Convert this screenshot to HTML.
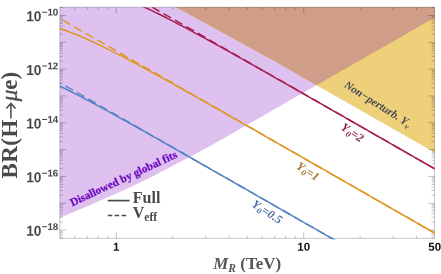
<!DOCTYPE html>
<html><head><meta charset="utf-8"><style>
html,body{margin:0;padding:0;background:#fff;}
svg{display:block;will-change:transform;}
text{font-family:"Liberation Serif",serif;}
text.ss{font-family:"Liberation Sans",sans-serif;}
</style></head><body>
<svg width="441" height="274" viewBox="0 0 441 274">
<rect width="441" height="274" fill="#fff"/>
<defs><clipPath id="cy"><path d="M176.10,7.20 L240.00,42.20 L280.00,64.20 L316.50,85.20 L434.70,152.60 L445.00,158.50 L444.60,2.20 L170.00,2.20 Z"/></clipPath><clipPath id="cl"><rect x="59.80" y="7.20" width="374.80" height="232.10"/></clipPath><clipPath id="c"><rect x="59.80" y="7.20" width="374.80" height="231.10"/></clipPath></defs>
<g clip-path="url(#c)">
<path d="M59.80,2.20 L59.80,217.92 L64.80,215.81 L69.80,213.70 L74.80,211.59 L79.80,209.48 L84.80,207.36 L89.80,205.13 L94.80,202.89 L99.80,200.66 L104.80,198.43 L109.80,196.22 L114.80,194.12 L119.80,192.01 L124.80,189.75 L129.80,187.38 L134.80,185.01 L139.80,182.59 L144.80,180.13 L149.80,177.67 L154.80,175.20 L159.80,172.59 L164.80,169.97 L169.80,167.35 L174.80,164.74 L179.80,162.12 L184.80,159.50 L189.80,156.88 L194.80,154.19 L199.80,151.50 L204.80,148.82 L209.80,146.13 L214.80,143.30 L219.80,140.46 L224.80,137.63 L229.80,134.79 L234.80,131.93 L239.80,129.07 L244.80,126.21 L249.80,123.35 L254.80,120.49 L259.80,117.63 L264.80,114.77 L269.80,111.91 L274.80,109.05 L279.80,106.19 L284.80,103.33 L289.80,100.47 L294.80,97.61 L299.80,94.75 L304.80,91.89 L309.80,89.03 L314.80,86.17 L319.80,83.31 L324.80,80.45 L329.80,77.59 L334.80,74.73 L339.80,71.87 L344.80,69.01 L349.80,66.15 L354.80,63.29 L359.80,60.43 L364.80,57.57 L369.80,54.71 L374.80,51.85 L379.80,48.99 L384.80,46.13 L389.80,43.27 L394.80,40.41 L399.80,37.55 L404.80,34.69 L409.80,31.83 L414.80,28.97 L419.80,26.11 L424.80,23.25 L429.80,20.39 L434.80,17.53 L439.80,14.67 L444.60,2.20 Z" fill="#DEC1EF"/>
<path d="M176.10,7.20 L240.00,42.20 L280.00,64.20 L316.50,85.20 L434.70,152.60 L445.00,158.50 L444.60,2.20 L170.00,2.20 Z" fill="#EED07A"/>
<g style="mix-blend-mode:normal"><path d="M59.80,2.20 L59.80,217.92 L64.80,215.81 L69.80,213.70 L74.80,211.59 L79.80,209.48 L84.80,207.36 L89.80,205.13 L94.80,202.89 L99.80,200.66 L104.80,198.43 L109.80,196.22 L114.80,194.12 L119.80,192.01 L124.80,189.75 L129.80,187.38 L134.80,185.01 L139.80,182.59 L144.80,180.13 L149.80,177.67 L154.80,175.20 L159.80,172.59 L164.80,169.97 L169.80,167.35 L174.80,164.74 L179.80,162.12 L184.80,159.50 L189.80,156.88 L194.80,154.19 L199.80,151.50 L204.80,148.82 L209.80,146.13 L214.80,143.30 L219.80,140.46 L224.80,137.63 L229.80,134.79 L234.80,131.93 L239.80,129.07 L244.80,126.21 L249.80,123.35 L254.80,120.49 L259.80,117.63 L264.80,114.77 L269.80,111.91 L274.80,109.05 L279.80,106.19 L284.80,103.33 L289.80,100.47 L294.80,97.61 L299.80,94.75 L304.80,91.89 L309.80,89.03 L314.80,86.17 L319.80,83.31 L324.80,80.45 L329.80,77.59 L334.80,74.73 L339.80,71.87 L344.80,69.01 L349.80,66.15 L354.80,63.29 L359.80,60.43 L364.80,57.57 L369.80,54.71 L374.80,51.85 L379.80,48.99 L384.80,46.13 L389.80,43.27 L394.80,40.41 L399.80,37.55 L404.80,34.69 L409.80,31.83 L414.80,28.97 L419.80,26.11 L424.80,23.25 L429.80,20.39 L434.80,17.53 L439.80,14.67 L444.60,2.20 Z" fill="#D09D89" clip-path="url(#cy)"/></g>
</g>
<rect x="59.80" y="7.20" width="374.80" height="231.10" fill="none" stroke="#000" stroke-opacity="0.27" stroke-width="0.8"/>
<line x1="59.80" y1="238.13" x2="62.80" y2="238.13" stroke="#000" stroke-opacity="0.4" stroke-width="0.60"/>
<line x1="434.60" y1="238.13" x2="431.60" y2="238.13" stroke="#000" stroke-opacity="0.4" stroke-width="0.60"/>
<line x1="59.80" y1="236.01" x2="62.80" y2="236.01" stroke="#000" stroke-opacity="0.4" stroke-width="0.60"/>
<line x1="434.60" y1="236.01" x2="431.60" y2="236.01" stroke="#000" stroke-opacity="0.4" stroke-width="0.60"/>
<line x1="59.80" y1="234.21" x2="62.80" y2="234.21" stroke="#000" stroke-opacity="0.4" stroke-width="0.60"/>
<line x1="434.60" y1="234.21" x2="431.60" y2="234.21" stroke="#000" stroke-opacity="0.4" stroke-width="0.60"/>
<line x1="59.80" y1="232.66" x2="62.80" y2="232.66" stroke="#000" stroke-opacity="0.4" stroke-width="0.60"/>
<line x1="434.60" y1="232.66" x2="431.60" y2="232.66" stroke="#000" stroke-opacity="0.4" stroke-width="0.60"/>
<line x1="59.80" y1="231.29" x2="62.80" y2="231.29" stroke="#000" stroke-opacity="0.4" stroke-width="0.60"/>
<line x1="434.60" y1="231.29" x2="431.60" y2="231.29" stroke="#000" stroke-opacity="0.4" stroke-width="0.60"/>
<line x1="59.80" y1="230.06" x2="66.30" y2="230.06" stroke="#000" stroke-opacity="0.4" stroke-width="0.60"/>
<line x1="434.60" y1="230.06" x2="428.10" y2="230.06" stroke="#000" stroke-opacity="0.4" stroke-width="0.60"/>
<line x1="59.80" y1="221.99" x2="62.80" y2="221.99" stroke="#000" stroke-opacity="0.4" stroke-width="0.60"/>
<line x1="434.60" y1="221.99" x2="431.60" y2="221.99" stroke="#000" stroke-opacity="0.4" stroke-width="0.60"/>
<line x1="59.80" y1="217.26" x2="62.80" y2="217.26" stroke="#000" stroke-opacity="0.4" stroke-width="0.60"/>
<line x1="434.60" y1="217.26" x2="431.60" y2="217.26" stroke="#000" stroke-opacity="0.4" stroke-width="0.60"/>
<line x1="59.80" y1="213.91" x2="62.80" y2="213.91" stroke="#000" stroke-opacity="0.4" stroke-width="0.60"/>
<line x1="434.60" y1="213.91" x2="431.60" y2="213.91" stroke="#000" stroke-opacity="0.4" stroke-width="0.60"/>
<line x1="59.80" y1="211.31" x2="62.80" y2="211.31" stroke="#000" stroke-opacity="0.4" stroke-width="0.60"/>
<line x1="434.60" y1="211.31" x2="431.60" y2="211.31" stroke="#000" stroke-opacity="0.4" stroke-width="0.60"/>
<line x1="59.80" y1="209.19" x2="62.80" y2="209.19" stroke="#000" stroke-opacity="0.4" stroke-width="0.60"/>
<line x1="434.60" y1="209.19" x2="431.60" y2="209.19" stroke="#000" stroke-opacity="0.4" stroke-width="0.60"/>
<line x1="59.80" y1="207.39" x2="62.80" y2="207.39" stroke="#000" stroke-opacity="0.4" stroke-width="0.60"/>
<line x1="434.60" y1="207.39" x2="431.60" y2="207.39" stroke="#000" stroke-opacity="0.4" stroke-width="0.60"/>
<line x1="59.80" y1="205.84" x2="62.80" y2="205.84" stroke="#000" stroke-opacity="0.4" stroke-width="0.60"/>
<line x1="434.60" y1="205.84" x2="431.60" y2="205.84" stroke="#000" stroke-opacity="0.4" stroke-width="0.60"/>
<line x1="59.80" y1="204.47" x2="62.80" y2="204.47" stroke="#000" stroke-opacity="0.4" stroke-width="0.60"/>
<line x1="434.60" y1="204.47" x2="431.60" y2="204.47" stroke="#000" stroke-opacity="0.4" stroke-width="0.60"/>
<line x1="59.80" y1="203.24" x2="66.30" y2="203.24" stroke="#000" stroke-opacity="0.4" stroke-width="0.60"/>
<line x1="434.60" y1="203.24" x2="428.10" y2="203.24" stroke="#000" stroke-opacity="0.4" stroke-width="0.60"/>
<line x1="59.80" y1="195.17" x2="62.80" y2="195.17" stroke="#000" stroke-opacity="0.4" stroke-width="0.60"/>
<line x1="434.60" y1="195.17" x2="431.60" y2="195.17" stroke="#000" stroke-opacity="0.4" stroke-width="0.60"/>
<line x1="59.80" y1="190.44" x2="62.80" y2="190.44" stroke="#000" stroke-opacity="0.4" stroke-width="0.60"/>
<line x1="434.60" y1="190.44" x2="431.60" y2="190.44" stroke="#000" stroke-opacity="0.4" stroke-width="0.60"/>
<line x1="59.80" y1="187.09" x2="62.80" y2="187.09" stroke="#000" stroke-opacity="0.4" stroke-width="0.60"/>
<line x1="434.60" y1="187.09" x2="431.60" y2="187.09" stroke="#000" stroke-opacity="0.4" stroke-width="0.60"/>
<line x1="59.80" y1="184.49" x2="62.80" y2="184.49" stroke="#000" stroke-opacity="0.4" stroke-width="0.60"/>
<line x1="434.60" y1="184.49" x2="431.60" y2="184.49" stroke="#000" stroke-opacity="0.4" stroke-width="0.60"/>
<line x1="59.80" y1="182.37" x2="62.80" y2="182.37" stroke="#000" stroke-opacity="0.4" stroke-width="0.60"/>
<line x1="434.60" y1="182.37" x2="431.60" y2="182.37" stroke="#000" stroke-opacity="0.4" stroke-width="0.60"/>
<line x1="59.80" y1="180.57" x2="62.80" y2="180.57" stroke="#000" stroke-opacity="0.4" stroke-width="0.60"/>
<line x1="434.60" y1="180.57" x2="431.60" y2="180.57" stroke="#000" stroke-opacity="0.4" stroke-width="0.60"/>
<line x1="59.80" y1="179.02" x2="62.80" y2="179.02" stroke="#000" stroke-opacity="0.4" stroke-width="0.60"/>
<line x1="434.60" y1="179.02" x2="431.60" y2="179.02" stroke="#000" stroke-opacity="0.4" stroke-width="0.60"/>
<line x1="59.80" y1="177.65" x2="62.80" y2="177.65" stroke="#000" stroke-opacity="0.4" stroke-width="0.60"/>
<line x1="434.60" y1="177.65" x2="431.60" y2="177.65" stroke="#000" stroke-opacity="0.4" stroke-width="0.60"/>
<line x1="59.80" y1="176.42" x2="66.30" y2="176.42" stroke="#000" stroke-opacity="0.4" stroke-width="0.60"/>
<line x1="434.60" y1="176.42" x2="428.10" y2="176.42" stroke="#000" stroke-opacity="0.4" stroke-width="0.60"/>
<line x1="59.80" y1="168.35" x2="62.80" y2="168.35" stroke="#000" stroke-opacity="0.4" stroke-width="0.60"/>
<line x1="434.60" y1="168.35" x2="431.60" y2="168.35" stroke="#000" stroke-opacity="0.4" stroke-width="0.60"/>
<line x1="59.80" y1="163.62" x2="62.80" y2="163.62" stroke="#000" stroke-opacity="0.4" stroke-width="0.60"/>
<line x1="434.60" y1="163.62" x2="431.60" y2="163.62" stroke="#000" stroke-opacity="0.4" stroke-width="0.60"/>
<line x1="59.80" y1="160.27" x2="62.80" y2="160.27" stroke="#000" stroke-opacity="0.4" stroke-width="0.60"/>
<line x1="434.60" y1="160.27" x2="431.60" y2="160.27" stroke="#000" stroke-opacity="0.4" stroke-width="0.60"/>
<line x1="59.80" y1="157.67" x2="62.80" y2="157.67" stroke="#000" stroke-opacity="0.4" stroke-width="0.60"/>
<line x1="434.60" y1="157.67" x2="431.60" y2="157.67" stroke="#000" stroke-opacity="0.4" stroke-width="0.60"/>
<line x1="59.80" y1="155.55" x2="62.80" y2="155.55" stroke="#000" stroke-opacity="0.4" stroke-width="0.60"/>
<line x1="434.60" y1="155.55" x2="431.60" y2="155.55" stroke="#000" stroke-opacity="0.4" stroke-width="0.60"/>
<line x1="59.80" y1="153.75" x2="62.80" y2="153.75" stroke="#000" stroke-opacity="0.4" stroke-width="0.60"/>
<line x1="434.60" y1="153.75" x2="431.60" y2="153.75" stroke="#000" stroke-opacity="0.4" stroke-width="0.60"/>
<line x1="59.80" y1="152.20" x2="62.80" y2="152.20" stroke="#000" stroke-opacity="0.4" stroke-width="0.60"/>
<line x1="434.60" y1="152.20" x2="431.60" y2="152.20" stroke="#000" stroke-opacity="0.4" stroke-width="0.60"/>
<line x1="59.80" y1="150.83" x2="62.80" y2="150.83" stroke="#000" stroke-opacity="0.4" stroke-width="0.60"/>
<line x1="434.60" y1="150.83" x2="431.60" y2="150.83" stroke="#000" stroke-opacity="0.4" stroke-width="0.60"/>
<line x1="59.80" y1="149.60" x2="66.30" y2="149.60" stroke="#000" stroke-opacity="0.4" stroke-width="0.60"/>
<line x1="434.60" y1="149.60" x2="428.10" y2="149.60" stroke="#000" stroke-opacity="0.4" stroke-width="0.60"/>
<line x1="59.80" y1="141.53" x2="62.80" y2="141.53" stroke="#000" stroke-opacity="0.4" stroke-width="0.60"/>
<line x1="434.60" y1="141.53" x2="431.60" y2="141.53" stroke="#000" stroke-opacity="0.4" stroke-width="0.60"/>
<line x1="59.80" y1="136.80" x2="62.80" y2="136.80" stroke="#000" stroke-opacity="0.4" stroke-width="0.60"/>
<line x1="434.60" y1="136.80" x2="431.60" y2="136.80" stroke="#000" stroke-opacity="0.4" stroke-width="0.60"/>
<line x1="59.80" y1="133.45" x2="62.80" y2="133.45" stroke="#000" stroke-opacity="0.4" stroke-width="0.60"/>
<line x1="434.60" y1="133.45" x2="431.60" y2="133.45" stroke="#000" stroke-opacity="0.4" stroke-width="0.60"/>
<line x1="59.80" y1="130.85" x2="62.80" y2="130.85" stroke="#000" stroke-opacity="0.4" stroke-width="0.60"/>
<line x1="434.60" y1="130.85" x2="431.60" y2="130.85" stroke="#000" stroke-opacity="0.4" stroke-width="0.60"/>
<line x1="59.80" y1="128.73" x2="62.80" y2="128.73" stroke="#000" stroke-opacity="0.4" stroke-width="0.60"/>
<line x1="434.60" y1="128.73" x2="431.60" y2="128.73" stroke="#000" stroke-opacity="0.4" stroke-width="0.60"/>
<line x1="59.80" y1="126.93" x2="62.80" y2="126.93" stroke="#000" stroke-opacity="0.4" stroke-width="0.60"/>
<line x1="434.60" y1="126.93" x2="431.60" y2="126.93" stroke="#000" stroke-opacity="0.4" stroke-width="0.60"/>
<line x1="59.80" y1="125.38" x2="62.80" y2="125.38" stroke="#000" stroke-opacity="0.4" stroke-width="0.60"/>
<line x1="434.60" y1="125.38" x2="431.60" y2="125.38" stroke="#000" stroke-opacity="0.4" stroke-width="0.60"/>
<line x1="59.80" y1="124.01" x2="62.80" y2="124.01" stroke="#000" stroke-opacity="0.4" stroke-width="0.60"/>
<line x1="434.60" y1="124.01" x2="431.60" y2="124.01" stroke="#000" stroke-opacity="0.4" stroke-width="0.60"/>
<line x1="59.80" y1="122.78" x2="66.30" y2="122.78" stroke="#000" stroke-opacity="0.4" stroke-width="0.60"/>
<line x1="434.60" y1="122.78" x2="428.10" y2="122.78" stroke="#000" stroke-opacity="0.4" stroke-width="0.60"/>
<line x1="59.80" y1="114.71" x2="62.80" y2="114.71" stroke="#000" stroke-opacity="0.4" stroke-width="0.60"/>
<line x1="434.60" y1="114.71" x2="431.60" y2="114.71" stroke="#000" stroke-opacity="0.4" stroke-width="0.60"/>
<line x1="59.80" y1="109.98" x2="62.80" y2="109.98" stroke="#000" stroke-opacity="0.4" stroke-width="0.60"/>
<line x1="434.60" y1="109.98" x2="431.60" y2="109.98" stroke="#000" stroke-opacity="0.4" stroke-width="0.60"/>
<line x1="59.80" y1="106.63" x2="62.80" y2="106.63" stroke="#000" stroke-opacity="0.4" stroke-width="0.60"/>
<line x1="434.60" y1="106.63" x2="431.60" y2="106.63" stroke="#000" stroke-opacity="0.4" stroke-width="0.60"/>
<line x1="59.80" y1="104.03" x2="62.80" y2="104.03" stroke="#000" stroke-opacity="0.4" stroke-width="0.60"/>
<line x1="434.60" y1="104.03" x2="431.60" y2="104.03" stroke="#000" stroke-opacity="0.4" stroke-width="0.60"/>
<line x1="59.80" y1="101.91" x2="62.80" y2="101.91" stroke="#000" stroke-opacity="0.4" stroke-width="0.60"/>
<line x1="434.60" y1="101.91" x2="431.60" y2="101.91" stroke="#000" stroke-opacity="0.4" stroke-width="0.60"/>
<line x1="59.80" y1="100.11" x2="62.80" y2="100.11" stroke="#000" stroke-opacity="0.4" stroke-width="0.60"/>
<line x1="434.60" y1="100.11" x2="431.60" y2="100.11" stroke="#000" stroke-opacity="0.4" stroke-width="0.60"/>
<line x1="59.80" y1="98.56" x2="62.80" y2="98.56" stroke="#000" stroke-opacity="0.4" stroke-width="0.60"/>
<line x1="434.60" y1="98.56" x2="431.60" y2="98.56" stroke="#000" stroke-opacity="0.4" stroke-width="0.60"/>
<line x1="59.80" y1="97.19" x2="62.80" y2="97.19" stroke="#000" stroke-opacity="0.4" stroke-width="0.60"/>
<line x1="434.60" y1="97.19" x2="431.60" y2="97.19" stroke="#000" stroke-opacity="0.4" stroke-width="0.60"/>
<line x1="59.80" y1="95.96" x2="66.30" y2="95.96" stroke="#000" stroke-opacity="0.4" stroke-width="0.60"/>
<line x1="434.60" y1="95.96" x2="428.10" y2="95.96" stroke="#000" stroke-opacity="0.4" stroke-width="0.60"/>
<line x1="59.80" y1="87.89" x2="62.80" y2="87.89" stroke="#000" stroke-opacity="0.4" stroke-width="0.60"/>
<line x1="434.60" y1="87.89" x2="431.60" y2="87.89" stroke="#000" stroke-opacity="0.4" stroke-width="0.60"/>
<line x1="59.80" y1="83.16" x2="62.80" y2="83.16" stroke="#000" stroke-opacity="0.4" stroke-width="0.60"/>
<line x1="434.60" y1="83.16" x2="431.60" y2="83.16" stroke="#000" stroke-opacity="0.4" stroke-width="0.60"/>
<line x1="59.80" y1="79.81" x2="62.80" y2="79.81" stroke="#000" stroke-opacity="0.4" stroke-width="0.60"/>
<line x1="434.60" y1="79.81" x2="431.60" y2="79.81" stroke="#000" stroke-opacity="0.4" stroke-width="0.60"/>
<line x1="59.80" y1="77.21" x2="62.80" y2="77.21" stroke="#000" stroke-opacity="0.4" stroke-width="0.60"/>
<line x1="434.60" y1="77.21" x2="431.60" y2="77.21" stroke="#000" stroke-opacity="0.4" stroke-width="0.60"/>
<line x1="59.80" y1="75.09" x2="62.80" y2="75.09" stroke="#000" stroke-opacity="0.4" stroke-width="0.60"/>
<line x1="434.60" y1="75.09" x2="431.60" y2="75.09" stroke="#000" stroke-opacity="0.4" stroke-width="0.60"/>
<line x1="59.80" y1="73.29" x2="62.80" y2="73.29" stroke="#000" stroke-opacity="0.4" stroke-width="0.60"/>
<line x1="434.60" y1="73.29" x2="431.60" y2="73.29" stroke="#000" stroke-opacity="0.4" stroke-width="0.60"/>
<line x1="59.80" y1="71.74" x2="62.80" y2="71.74" stroke="#000" stroke-opacity="0.4" stroke-width="0.60"/>
<line x1="434.60" y1="71.74" x2="431.60" y2="71.74" stroke="#000" stroke-opacity="0.4" stroke-width="0.60"/>
<line x1="59.80" y1="70.37" x2="62.80" y2="70.37" stroke="#000" stroke-opacity="0.4" stroke-width="0.60"/>
<line x1="434.60" y1="70.37" x2="431.60" y2="70.37" stroke="#000" stroke-opacity="0.4" stroke-width="0.60"/>
<line x1="59.80" y1="69.14" x2="66.30" y2="69.14" stroke="#000" stroke-opacity="0.4" stroke-width="0.60"/>
<line x1="434.60" y1="69.14" x2="428.10" y2="69.14" stroke="#000" stroke-opacity="0.4" stroke-width="0.60"/>
<line x1="59.80" y1="61.07" x2="62.80" y2="61.07" stroke="#000" stroke-opacity="0.4" stroke-width="0.60"/>
<line x1="434.60" y1="61.07" x2="431.60" y2="61.07" stroke="#000" stroke-opacity="0.4" stroke-width="0.60"/>
<line x1="59.80" y1="56.34" x2="62.80" y2="56.34" stroke="#000" stroke-opacity="0.4" stroke-width="0.60"/>
<line x1="434.60" y1="56.34" x2="431.60" y2="56.34" stroke="#000" stroke-opacity="0.4" stroke-width="0.60"/>
<line x1="59.80" y1="52.99" x2="62.80" y2="52.99" stroke="#000" stroke-opacity="0.4" stroke-width="0.60"/>
<line x1="434.60" y1="52.99" x2="431.60" y2="52.99" stroke="#000" stroke-opacity="0.4" stroke-width="0.60"/>
<line x1="59.80" y1="50.39" x2="62.80" y2="50.39" stroke="#000" stroke-opacity="0.4" stroke-width="0.60"/>
<line x1="434.60" y1="50.39" x2="431.60" y2="50.39" stroke="#000" stroke-opacity="0.4" stroke-width="0.60"/>
<line x1="59.80" y1="48.27" x2="62.80" y2="48.27" stroke="#000" stroke-opacity="0.4" stroke-width="0.60"/>
<line x1="434.60" y1="48.27" x2="431.60" y2="48.27" stroke="#000" stroke-opacity="0.4" stroke-width="0.60"/>
<line x1="59.80" y1="46.47" x2="62.80" y2="46.47" stroke="#000" stroke-opacity="0.4" stroke-width="0.60"/>
<line x1="434.60" y1="46.47" x2="431.60" y2="46.47" stroke="#000" stroke-opacity="0.4" stroke-width="0.60"/>
<line x1="59.80" y1="44.92" x2="62.80" y2="44.92" stroke="#000" stroke-opacity="0.4" stroke-width="0.60"/>
<line x1="434.60" y1="44.92" x2="431.60" y2="44.92" stroke="#000" stroke-opacity="0.4" stroke-width="0.60"/>
<line x1="59.80" y1="43.55" x2="62.80" y2="43.55" stroke="#000" stroke-opacity="0.4" stroke-width="0.60"/>
<line x1="434.60" y1="43.55" x2="431.60" y2="43.55" stroke="#000" stroke-opacity="0.4" stroke-width="0.60"/>
<line x1="59.80" y1="42.32" x2="66.30" y2="42.32" stroke="#000" stroke-opacity="0.4" stroke-width="0.60"/>
<line x1="434.60" y1="42.32" x2="428.10" y2="42.32" stroke="#000" stroke-opacity="0.4" stroke-width="0.60"/>
<line x1="59.80" y1="34.25" x2="62.80" y2="34.25" stroke="#000" stroke-opacity="0.4" stroke-width="0.60"/>
<line x1="434.60" y1="34.25" x2="431.60" y2="34.25" stroke="#000" stroke-opacity="0.4" stroke-width="0.60"/>
<line x1="59.80" y1="29.52" x2="62.80" y2="29.52" stroke="#000" stroke-opacity="0.4" stroke-width="0.60"/>
<line x1="434.60" y1="29.52" x2="431.60" y2="29.52" stroke="#000" stroke-opacity="0.4" stroke-width="0.60"/>
<line x1="59.80" y1="26.17" x2="62.80" y2="26.17" stroke="#000" stroke-opacity="0.4" stroke-width="0.60"/>
<line x1="434.60" y1="26.17" x2="431.60" y2="26.17" stroke="#000" stroke-opacity="0.4" stroke-width="0.60"/>
<line x1="59.80" y1="23.57" x2="62.80" y2="23.57" stroke="#000" stroke-opacity="0.4" stroke-width="0.60"/>
<line x1="434.60" y1="23.57" x2="431.60" y2="23.57" stroke="#000" stroke-opacity="0.4" stroke-width="0.60"/>
<line x1="59.80" y1="21.45" x2="62.80" y2="21.45" stroke="#000" stroke-opacity="0.4" stroke-width="0.60"/>
<line x1="434.60" y1="21.45" x2="431.60" y2="21.45" stroke="#000" stroke-opacity="0.4" stroke-width="0.60"/>
<line x1="59.80" y1="19.65" x2="62.80" y2="19.65" stroke="#000" stroke-opacity="0.4" stroke-width="0.60"/>
<line x1="434.60" y1="19.65" x2="431.60" y2="19.65" stroke="#000" stroke-opacity="0.4" stroke-width="0.60"/>
<line x1="59.80" y1="18.10" x2="62.80" y2="18.10" stroke="#000" stroke-opacity="0.4" stroke-width="0.60"/>
<line x1="434.60" y1="18.10" x2="431.60" y2="18.10" stroke="#000" stroke-opacity="0.4" stroke-width="0.60"/>
<line x1="59.80" y1="16.73" x2="62.80" y2="16.73" stroke="#000" stroke-opacity="0.4" stroke-width="0.60"/>
<line x1="434.60" y1="16.73" x2="431.60" y2="16.73" stroke="#000" stroke-opacity="0.4" stroke-width="0.60"/>
<line x1="59.80" y1="15.50" x2="66.30" y2="15.50" stroke="#000" stroke-opacity="0.4" stroke-width="0.60"/>
<line x1="434.60" y1="15.50" x2="428.10" y2="15.50" stroke="#000" stroke-opacity="0.4" stroke-width="0.60"/>
<line x1="59.80" y1="7.43" x2="62.80" y2="7.43" stroke="#000" stroke-opacity="0.4" stroke-width="0.60"/>
<line x1="434.60" y1="7.43" x2="431.60" y2="7.43" stroke="#000" stroke-opacity="0.4" stroke-width="0.60"/>
<line x1="74.73" y1="238.30" x2="74.73" y2="235.70" stroke="#000" stroke-opacity="0.4" stroke-width="0.60"/>
<line x1="74.73" y1="7.20" x2="74.73" y2="9.80" stroke="#000" stroke-opacity="0.4" stroke-width="0.60"/>
<line x1="87.27" y1="238.30" x2="87.27" y2="235.70" stroke="#000" stroke-opacity="0.4" stroke-width="0.60"/>
<line x1="87.27" y1="7.20" x2="87.27" y2="9.80" stroke="#000" stroke-opacity="0.4" stroke-width="0.60"/>
<line x1="98.14" y1="238.30" x2="98.14" y2="235.70" stroke="#000" stroke-opacity="0.4" stroke-width="0.60"/>
<line x1="98.14" y1="7.20" x2="98.14" y2="9.80" stroke="#000" stroke-opacity="0.4" stroke-width="0.60"/>
<line x1="107.73" y1="238.30" x2="107.73" y2="235.70" stroke="#000" stroke-opacity="0.4" stroke-width="0.60"/>
<line x1="107.73" y1="7.20" x2="107.73" y2="9.80" stroke="#000" stroke-opacity="0.4" stroke-width="0.60"/>
<line x1="116.30" y1="238.30" x2="116.30" y2="232.30" stroke="#000" stroke-opacity="0.4" stroke-width="0.60"/>
<line x1="116.30" y1="7.20" x2="116.30" y2="13.20" stroke="#000" stroke-opacity="0.4" stroke-width="0.60"/>
<line x1="172.71" y1="238.30" x2="172.71" y2="235.70" stroke="#000" stroke-opacity="0.4" stroke-width="0.60"/>
<line x1="172.71" y1="7.20" x2="172.71" y2="9.80" stroke="#000" stroke-opacity="0.4" stroke-width="0.60"/>
<line x1="205.71" y1="238.30" x2="205.71" y2="235.70" stroke="#000" stroke-opacity="0.4" stroke-width="0.60"/>
<line x1="205.71" y1="7.20" x2="205.71" y2="9.80" stroke="#000" stroke-opacity="0.4" stroke-width="0.60"/>
<line x1="229.13" y1="238.30" x2="229.13" y2="235.70" stroke="#000" stroke-opacity="0.4" stroke-width="0.60"/>
<line x1="229.13" y1="7.20" x2="229.13" y2="9.80" stroke="#000" stroke-opacity="0.4" stroke-width="0.60"/>
<line x1="247.29" y1="238.30" x2="247.29" y2="235.70" stroke="#000" stroke-opacity="0.4" stroke-width="0.60"/>
<line x1="247.29" y1="7.20" x2="247.29" y2="9.80" stroke="#000" stroke-opacity="0.4" stroke-width="0.60"/>
<line x1="262.13" y1="238.30" x2="262.13" y2="235.70" stroke="#000" stroke-opacity="0.4" stroke-width="0.60"/>
<line x1="262.13" y1="7.20" x2="262.13" y2="9.80" stroke="#000" stroke-opacity="0.4" stroke-width="0.60"/>
<line x1="274.67" y1="238.30" x2="274.67" y2="235.70" stroke="#000" stroke-opacity="0.4" stroke-width="0.60"/>
<line x1="274.67" y1="7.20" x2="274.67" y2="9.80" stroke="#000" stroke-opacity="0.4" stroke-width="0.60"/>
<line x1="285.54" y1="238.30" x2="285.54" y2="235.70" stroke="#000" stroke-opacity="0.4" stroke-width="0.60"/>
<line x1="285.54" y1="7.20" x2="285.54" y2="9.80" stroke="#000" stroke-opacity="0.4" stroke-width="0.60"/>
<line x1="295.13" y1="238.30" x2="295.13" y2="235.70" stroke="#000" stroke-opacity="0.4" stroke-width="0.60"/>
<line x1="295.13" y1="7.20" x2="295.13" y2="9.80" stroke="#000" stroke-opacity="0.4" stroke-width="0.60"/>
<line x1="303.70" y1="238.30" x2="303.70" y2="232.30" stroke="#000" stroke-opacity="0.4" stroke-width="0.60"/>
<line x1="303.70" y1="7.20" x2="303.70" y2="13.20" stroke="#000" stroke-opacity="0.4" stroke-width="0.60"/>
<line x1="360.11" y1="238.30" x2="360.11" y2="235.70" stroke="#000" stroke-opacity="0.4" stroke-width="0.60"/>
<line x1="360.11" y1="7.20" x2="360.11" y2="9.80" stroke="#000" stroke-opacity="0.4" stroke-width="0.60"/>
<line x1="393.11" y1="238.30" x2="393.11" y2="235.70" stroke="#000" stroke-opacity="0.4" stroke-width="0.60"/>
<line x1="393.11" y1="7.20" x2="393.11" y2="9.80" stroke="#000" stroke-opacity="0.4" stroke-width="0.60"/>
<line x1="416.53" y1="238.30" x2="416.53" y2="235.70" stroke="#000" stroke-opacity="0.4" stroke-width="0.60"/>
<line x1="416.53" y1="7.20" x2="416.53" y2="9.80" stroke="#000" stroke-opacity="0.4" stroke-width="0.60"/>
<g clip-path="url(#cl)">
<path d="M59.80,86.01 L62.80,87.49 L65.80,88.99 L68.80,90.50 L71.80,92.03 L74.80,93.57 L77.80,95.13 L80.80,96.70 L83.80,98.27 L86.80,99.86 L89.80,101.46 L92.80,103.06 L95.80,104.67 L98.80,106.29 L101.80,107.92 L104.80,109.56 L107.80,111.19 L110.80,112.84 L113.80,114.49 L116.80,116.15 L119.80,117.80 L122.80,119.47 L125.80,121.14 L128.80,122.81 L131.80,124.48 L134.80,126.16 L137.80,127.84 L140.80,129.52 L143.80,131.21 L146.80,132.89 L149.80,134.58 L152.80,136.28 L155.80,137.97 L158.80,139.66 L161.80,141.36 L164.80,143.06 L167.80,144.76 L170.80,146.46 L173.80,148.16 L176.80,149.86 L179.80,151.57 L182.80,153.27 L185.80,154.98 L188.80,156.69 L191.80,158.39 L194.80,160.10 L197.80,161.81 L200.80,163.52 L203.80,165.23 L206.80,166.94 L209.80,168.65 L212.80,170.36 L215.80,172.08 L218.80,173.79 L221.80,175.50 L224.80,177.21 L227.80,178.93 L230.80,180.64 L233.80,182.35 L236.80,184.07 L239.80,185.78 L242.80,187.50 L245.80,189.21 L248.80,190.93 L251.80,192.64 L254.80,194.36 L257.80,196.07 L260.80,197.79 L263.80,199.50 L266.80,201.22 L269.80,202.94 L272.80,204.65 L275.80,206.37 L278.80,208.09 L281.80,209.80 L284.80,211.52 L287.80,213.23 L290.80,214.95 L293.80,216.67 L296.80,218.38 L299.80,220.10 L302.80,221.82 L305.80,223.53 L308.80,225.25 L311.80,226.97 L314.80,228.68 L317.80,230.40 L320.80,232.12 L323.80,233.84 L326.80,235.55 L329.80,237.27 L332.80,238.99 L335.80,240.70 L338.80,242.42 L341.80,244.14 L344.80,245.86 L347.80,247.57 L350.80,249.29 L353.80,251.01 L356.80,252.72 L359.80,254.44 L362.80,256.16 L365.80,257.88 L368.80,259.59 L371.80,261.31 L374.80,263.03 L377.80,264.75 L380.80,266.46 L383.80,268.18 L386.80,269.90 L389.80,271.61 L392.80,273.33 L395.80,275.05 L398.80,276.77 L401.80,278.48 L404.80,280.20 L407.80,281.92 L410.80,283.64 L413.80,285.35 L416.80,287.07 L419.80,288.79 L422.80,290.51 L425.80,292.22 L428.80,293.94 L431.80,295.66 L434.80,297.37 L437.80,299.09 L439.60,300.12" fill="none" stroke="#5585C4" stroke-width="1.5"/>
<path d="M53.90,79.32 L439.60,300.12" fill="none" stroke="#5585C4" stroke-width="1.5" stroke-dasharray="8.6 4.6"/>
<path d="M59.80,28.52 L62.80,29.53 L65.80,30.58 L68.80,31.69 L71.80,32.83 L74.80,34.02 L77.80,35.24 L80.80,36.50 L83.80,37.80 L86.80,39.12 L89.80,40.47 L92.80,41.85 L95.80,43.25 L98.80,44.67 L101.80,46.11 L104.80,47.58 L107.80,49.06 L110.80,50.56 L113.80,52.07 L116.80,53.60 L119.80,55.14 L122.80,56.70 L125.80,58.26 L128.80,59.84 L131.80,61.43 L134.80,63.02 L137.80,64.63 L140.80,66.24 L143.80,67.86 L146.80,69.49 L149.80,71.12 L152.80,72.76 L155.80,74.40 L158.80,76.05 L161.80,77.71 L164.80,79.37 L167.80,81.03 L170.80,82.70 L173.80,84.37 L176.80,86.04 L179.80,87.72 L182.80,89.40 L185.80,91.08 L188.80,92.77 L191.80,94.46 L194.80,96.15 L197.80,97.84 L200.80,99.53 L203.80,101.23 L206.80,102.92 L209.80,104.62 L212.80,106.32 L215.80,108.02 L218.80,109.72 L221.80,111.43 L224.80,113.13 L227.80,114.84 L230.80,116.54 L233.80,118.25 L236.80,119.96 L239.80,121.66 L242.80,123.37 L245.80,125.08 L248.80,126.79 L251.80,128.50 L254.80,130.21 L257.80,131.93 L260.80,133.64 L263.80,135.35 L266.80,137.06 L269.80,138.78 L272.80,140.49 L275.80,142.20 L278.80,143.92 L281.80,145.63 L284.80,147.34 L287.80,149.06 L290.80,150.77 L293.80,152.49 L296.80,154.20 L299.80,155.92 L302.80,157.63 L305.80,159.35 L308.80,161.07 L311.80,162.78 L314.80,164.50 L317.80,166.21 L320.80,167.93 L323.80,169.65 L326.80,171.36 L329.80,173.08 L332.80,174.80 L335.80,176.51 L338.80,178.23 L341.80,179.95 L344.80,181.66 L347.80,183.38 L350.80,185.10 L353.80,186.81 L356.80,188.53 L359.80,190.25 L362.80,191.96 L365.80,193.68 L368.80,195.40 L371.80,197.11 L374.80,198.83 L377.80,200.55 L380.80,202.27 L383.80,203.98 L386.80,205.70 L389.80,207.42 L392.80,209.13 L395.80,210.85 L398.80,212.57 L401.80,214.29 L404.80,216.00 L407.80,217.72 L410.80,219.44 L413.80,221.15 L416.80,222.87 L419.80,224.59 L422.80,226.31 L425.80,228.02 L428.80,229.74 L431.80,231.46 L434.80,233.18 L437.80,234.89 L439.60,235.92" fill="none" stroke="#DF9622" stroke-width="1.5"/>
<path d="M62.80,20.22 L439.60,235.92" fill="none" stroke="#DF9622" stroke-width="1.5" stroke-dasharray="8.6 4.6"/>
<path d="M59.80,-9.72 L62.80,-10.57 L65.80,-11.23 L68.80,-11.73 L71.80,-12.07 L74.80,-12.26 L77.80,-12.31 L80.80,-12.24 L83.80,-12.06 L86.80,-11.76 L89.80,-11.37 L92.80,-10.87 L95.80,-10.30 L98.80,-9.64 L101.80,-8.90 L104.80,-8.10 L107.80,-7.23 L110.80,-6.30 L113.80,-5.32 L116.80,-4.28 L119.80,-3.19 L122.80,-2.06 L125.80,-0.89 L128.80,0.32 L131.80,1.57 L134.80,2.85 L137.80,4.16 L140.80,5.50 L143.80,6.87 L146.80,8.26 L149.80,9.67 L152.80,11.11 L155.80,12.57 L158.80,14.04 L161.80,15.53 L164.80,17.04 L167.80,18.56 L170.80,20.10 L173.80,21.65 L176.80,23.21 L179.80,24.79 L182.80,26.37 L185.80,27.96 L188.80,29.56 L191.80,31.17 L194.80,32.79 L197.80,34.41 L200.80,36.05 L203.80,37.68 L206.80,39.33 L209.80,40.97 L212.80,42.63 L215.80,44.29 L218.80,45.95 L221.80,47.61 L224.80,49.28 L227.80,50.96 L230.80,52.63 L233.80,54.31 L236.80,55.99 L239.80,57.68 L242.80,59.36 L245.80,61.05 L248.80,62.74 L251.80,64.44 L254.80,66.13 L257.80,67.83 L260.80,69.52 L263.80,71.22 L266.80,72.92 L269.80,74.62 L272.80,76.33 L275.80,78.03 L278.80,79.74 L281.80,81.44 L284.80,83.15 L287.80,84.86 L290.80,86.56 L293.80,88.27 L296.80,89.98 L299.80,91.69 L302.80,93.40 L305.80,95.11 L308.80,96.82 L311.80,98.54 L314.80,100.25 L317.80,101.96 L320.80,103.67 L323.80,105.39 L326.80,107.10 L329.80,108.81 L332.80,110.53 L335.80,112.24 L338.80,113.96 L341.80,115.67 L344.80,117.39 L347.80,119.10 L350.80,120.82 L353.80,122.53 L356.80,124.25 L359.80,125.96 L362.80,127.68 L365.80,129.39 L368.80,131.11 L371.80,132.83 L374.80,134.54 L377.80,136.26 L380.80,137.97 L383.80,139.69 L386.80,141.41 L389.80,143.12 L392.80,144.84 L395.80,146.56 L398.80,148.27 L401.80,149.99 L404.80,151.71 L407.80,153.42 L410.80,155.14 L413.80,156.86 L416.80,158.58 L419.80,160.29 L422.80,162.01 L425.80,163.73 L428.80,165.44 L431.80,167.16 L434.80,168.88 L437.80,170.60 L439.60,171.63" fill="none" stroke="#A51E50" stroke-width="1.5"/>
<path d="M60.40,-45.46 L439.60,171.62" fill="none" stroke="#A51E50" stroke-width="1.5" stroke-dasharray="8.6 4.6"/>
</g>
<text transform="translate(41.4,21.30) rotate(0.05)" text-anchor="end" class="ss" font-weight="bold" font-size="14.4" fill="#464646" textLength="15.2" lengthAdjust="spacingAndGlyphs">10</text><text transform="translate(41.7,15.50) rotate(0.05)" class="ss" font-weight="bold" font-size="9.8" fill="#464646">−10</text>
<text transform="translate(41.4,74.94) rotate(0.05)" text-anchor="end" class="ss" font-weight="bold" font-size="14.4" fill="#464646" textLength="15.2" lengthAdjust="spacingAndGlyphs">10</text><text transform="translate(41.7,69.14) rotate(0.05)" class="ss" font-weight="bold" font-size="9.8" fill="#464646">−12</text>
<text transform="translate(41.4,128.58) rotate(0.05)" text-anchor="end" class="ss" font-weight="bold" font-size="14.4" fill="#464646" textLength="15.2" lengthAdjust="spacingAndGlyphs">10</text><text transform="translate(41.7,122.78) rotate(0.05)" class="ss" font-weight="bold" font-size="9.8" fill="#464646">−14</text>
<text transform="translate(41.4,182.22) rotate(0.05)" text-anchor="end" class="ss" font-weight="bold" font-size="14.4" fill="#464646" textLength="15.2" lengthAdjust="spacingAndGlyphs">10</text><text transform="translate(41.7,176.42) rotate(0.05)" class="ss" font-weight="bold" font-size="9.8" fill="#464646">−16</text>
<text transform="translate(41.4,235.86) rotate(0.05)" text-anchor="end" class="ss" font-weight="bold" font-size="14.4" fill="#464646" textLength="15.2" lengthAdjust="spacingAndGlyphs">10</text><text transform="translate(41.7,230.06) rotate(0.05)" class="ss" font-weight="bold" font-size="9.8" fill="#464646">−18</text>
<text transform="translate(116.30,250.8) rotate(0.05)" text-anchor="middle" class="ss" font-weight="bold" font-size="11.5" fill="#111">1</text>
<text transform="translate(303.70,250.8) rotate(0.05)" text-anchor="middle" class="ss" font-weight="bold" font-size="11.5" fill="#111">10</text>
<text transform="translate(434.69,250.8) rotate(0.05)" text-anchor="middle" class="ss" font-weight="bold" font-size="11.5" fill="#111">50</text>
<g transform="translate(16.6,0) rotate(-90)" font-weight="bold" font-size="23" fill="#4a4a4a">
<text x="-178.4" y="0" letter-spacing="0.4">BR(H</text>
<text x="-101.2" y="0"><tspan font-style="italic" font-weight="normal" stroke="#4a4a4a" stroke-width="0.35">μ</tspan>e)</text>
</g>
<path d="M10.9,118.4 L10.9,104.2 M6.3,108.6 L10.9,103.4 L15.5,108.6" fill="none" stroke="#4a4a4a" stroke-width="1.5" stroke-linejoin="miter"/>
<text x="247.2" y="268.7" text-anchor="middle" font-weight="bold" font-size="17" fill="#555"><tspan font-style="italic">M</tspan><tspan font-style="italic" font-size="11.5" dy="3">R</tspan><tspan dy="-3"> (TeV)</tspan></text>
<text transform="translate(72.2,206.4) rotate(-25)" font-weight="bold" font-size="11.2" fill="#6E0CC2" stroke="#6E0CC2" stroke-width="0.25">Disallowed by global fits</text>
<text transform="translate(343.4,86.8) rotate(32)" font-weight="bold" font-style="italic" font-size="11.2" fill="#464c55">Non−perturb. Y<tspan font-size="8" dy="2.5">ν</tspan></text>
<text transform="translate(340.1,129.1) rotate(33)" font-weight="bold" font-style="italic" font-size="12" fill="#8E2248">Y<tspan font-size="8.5" dy="2.5">0</tspan><tspan dy="-2.5">=2</tspan></text>
<text transform="translate(295.5,168.0) rotate(33)" font-weight="bold" font-style="italic" font-size="12" fill="#A8702A">Y<tspan font-size="8.5" dy="2.5">0</tspan><tspan dy="-2.5">=1</tspan></text>
<text transform="translate(251,206) rotate(33)" font-weight="bold" font-style="italic" font-size="12" fill="#4C6E9E">Y<tspan font-size="8.5" dy="2.5">0</tspan><tspan dy="-2.5">=0.5</tspan></text>
<line x1="107.8" y1="200.6" x2="129.6" y2="200.6" stroke="#4a4a4a" stroke-width="1.7"/>
<line x1="107.8" y1="215.5" x2="126.2" y2="215.5" stroke="#4a4a4a" stroke-width="1.6" stroke-dasharray="4.5 2.4"/>
<text x="132.8" y="203.1" font-weight="bold" font-size="16" fill="#4a4a4a">Full</text>
<text x="132.8" y="217.8" font-weight="bold" font-size="16" fill="#4a4a4a">V<tspan font-size="11.5" dy="3.1">eff</tspan></text>
</svg>
</body></html>
